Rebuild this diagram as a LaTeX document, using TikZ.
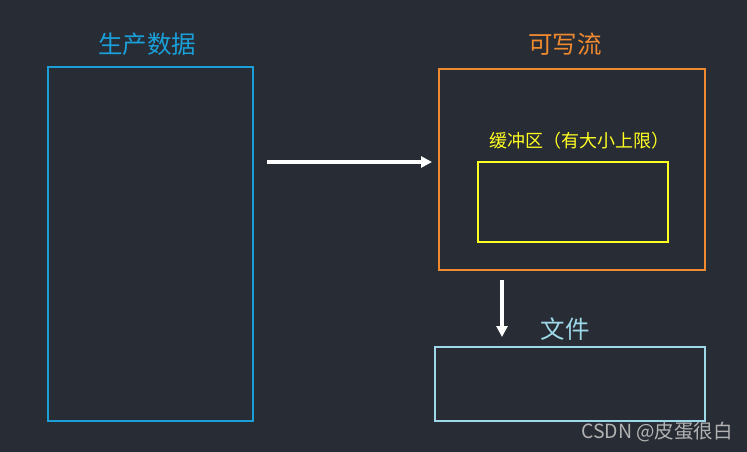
\documentclass[tikz,border=0pt]{standalone}
\usepackage{fontspec}
\setmainfont{Noto Sans CJK SC}
\usetikzlibrary{arrows.meta}
\definecolor{bg}{HTML}{282C34}
\definecolor{cblue}{HTML}{1A9FD9}
\definecolor{corange}{HTML}{F08A30}
\definecolor{cyel}{HTML}{FFFF22}
\definecolor{clb}{HTML}{9ED8E8}
\tikzset{box/.style={draw,line width=1.6pt},
 ttl/.style={font=\fontsize{24.5}{26}\selectfont},
 arr/.style={white,line width=3.2pt,-{Triangle[length=11pt,width=11pt]}}}
\begin{document}
\begin{tikzpicture}[x=1pt,y=-1pt]
\fill[bg] (0,0) rectangle (747,452);
\useasboundingbox (0,0) rectangle (747,452);
\draw[box,cblue] (48,67) rectangle (253,421);
\node[ttl,cblue] (t1) at (147,44) {生产数据};
\draw[box,corange] (439,69) rectangle (705,270);
\node[ttl,corange] (t2) at (565,44) {可写流};
\draw[box,cyel] (478,162) rectangle (668,242);
\node[cyel,font=\fontsize{18}{20}\selectfont] (t3) at (579,141) {缓冲区（有大小上限）};
\coordinate (a1) at (267,162);
\coordinate (a2) at (432,162);
\draw[arr] (a1) -- (a2);
\coordinate (b1) at (502,280);
\coordinate (b2) at (502,337);
\draw[arr] (b1) -- (b2);
\node[ttl,clb] (t4) at (565,329) {文件};
\draw[box,clb] (435,347) rectangle (705,421);
\node[gray!60,font=\fontsize{19.5}{21}\selectfont] (wm) at (657,432) {CSDN @皮蛋很白};
\end{tikzpicture}
\end{document}
